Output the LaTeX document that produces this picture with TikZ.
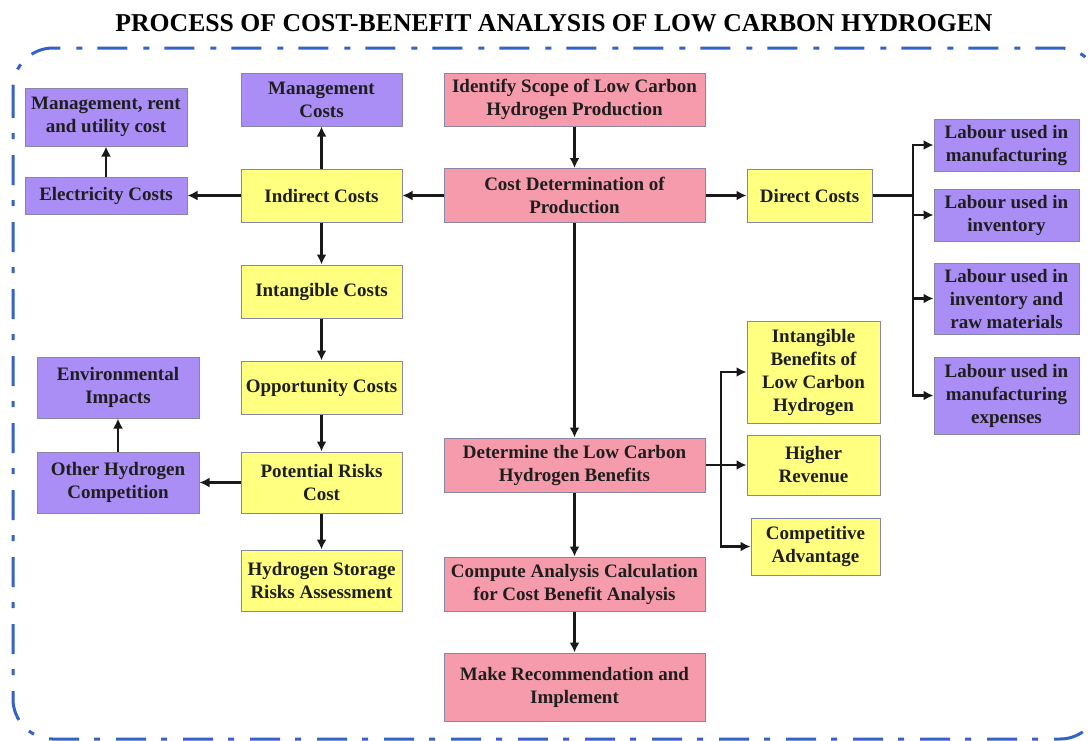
\documentclass[tikz,border=0pt]{standalone}
\usepackage{fontspec}
\setmainfont{Liberation Serif}
\usetikzlibrary{arrows.meta}
\definecolor{purp}{RGB}{170,142,246}
\definecolor{pinkb}{RGB}{246,155,172}
\definecolor{yel}{RGB}{255,255,128}
\definecolor{edge}{RGB}{135,135,165}
\definecolor{bord}{RGB}{52,98,200}
\definecolor{txt}{RGB}{30,30,30}
\tikzset{
  box/.style={draw=edge, line width=1pt, inner sep=0pt, align=center, text=txt,
    font=\fontsize{19}{23}\selectfont\bfseries},
  pbox/.style={box, fill=purp},
  ybox/.style={box, fill=yel},
  kbox/.style={box, fill=pinkb},
  arr/.style={line width=2.8pt, draw=black!90, -{Latex[length=10pt,width=10pt]}},
  ln/.style={line width=2.8pt, draw=black!90},
  border/.style={draw=bord, line width=3pt, rounded corners=40pt,
    dash pattern=on 30pt off 15pt on 6pt off 16pt}
}
\begin{document}
\begin{tikzpicture}[x=1pt,y=-1pt]
\useasboundingbox (0,0) rectangle (1089,740);
\fill[white] (0,0) rectangle (1089,740);
\draw[border] (13,48) rectangle (1100,739);
\node[font=\fontsize{25.7}{30}\selectfont\bfseries, text=black] (title) at (554,23) {PROCESS OF COST-BENEFIT ANALYSIS OF LOW CARBON HYDROGEN};

% purple
\node[pbox, minimum width=162pt, minimum height=58pt] (mru) at (106,117) {Management, rent\\and utility cost};
\node[pbox, minimum width=162pt, minimum height=37pt] (elec) at (106,195.5) {Electricity Costs};
\node[pbox, minimum width=161pt, minimum height=53pt] (mgmt) at (321.5,99.5) {Management\\Costs};
\node[pbox, minimum width=162pt, minimum height=61pt] (env) at (118,387.5) {Environmental\\Impacts};
\node[pbox, minimum width=162pt, minimum height=61pt] (other) at (118,482.5) {Other Hydrogen\\Competition};
\node[pbox, minimum width=145pt, minimum height=52pt] (l1) at (1006.5,145) {Labour used in\\manufacturing};
\node[pbox, minimum width=145pt, minimum height=52pt] (l2) at (1006.5,215) {Labour used in\\inventory};
\node[pbox, minimum width=145pt, minimum height=71pt] (l3) at (1006.5,298.5) {Labour used in\\inventory and\\raw materials};
\node[pbox, minimum width=145pt, minimum height=77pt] (l4) at (1006.5,395.5) {Labour used in\\manufacturing\\expenses};

% yellow
\node[ybox, minimum width=161pt, minimum height=53pt] (indirect) at (321.5,195.5) {Indirect Costs};
\node[ybox, minimum width=161pt, minimum height=53pt] (intang) at (321.5,291.5) {Intangible Costs};
\node[ybox, minimum width=161pt, minimum height=53pt] (opp) at (321.5,387.5) {Opportunity Costs};
\node[ybox, minimum width=161pt, minimum height=61pt] (risk) at (321.5,482.5) {Potential Risks\\Cost};
\node[ybox, minimum width=161pt, minimum height=61pt] (storage) at (321.5,580.5) {Hydrogen Storage\\Risks Assessment};
\node[ybox, minimum width=125pt, minimum height=53pt] (direct) at (809.5,195.5) {Direct Costs};
\node[ybox, minimum width=133pt, minimum height=102pt] (ib) at (813.5,372) {Intangible\\Benefits of\\Low Carbon\\Hydrogen};
\node[ybox, minimum width=133pt, minimum height=60pt] (rev) at (813.5,465) {Higher\\Revenue};
\node[ybox, minimum width=129pt, minimum height=57pt] (comp) at (815.5,546.5) {Competitive\\Advantage};

% pink
\node[kbox, minimum width=261pt, minimum height=53pt] (scope) at (574.5,99.5) {Identify Scope of Low Carbon\\Hydrogen Production};
\node[kbox, minimum width=261pt, minimum height=54pt] (cdet) at (574.5,195.5) {Cost Determination of\\Production};
\node[kbox, minimum width=261pt, minimum height=54pt] (det) at (574.5,465) {Determine the Low Carbon\\Hydrogen Benefits};
\node[kbox, minimum width=261pt, minimum height=54pt] (calc) at (574.5,584) {Compute Analysis Calculation\\for Cost Benefit Analysis};
\node[kbox, minimum width=261pt, minimum height=68pt] (rec) at (574.5,687) {Make Recommendation and\\Implement};

\coordinate (tR) at (913,195.5);
\coordinate (tB) at (721,465);

% connectors
\draw[arr] (scope) -- (cdet);
\draw[arr] (cdet) -- (indirect);
\draw[arr] (cdet) -- (direct);
\draw[arr] (cdet) -- (det);
\draw[arr] (indirect) -- (mgmt);
\draw[arr] (indirect) -- (elec);
\draw[arr] (elec) -- (mru);
\draw[arr] (indirect) -- (intang);
\draw[arr] (intang) -- (opp);
\draw[arr] (opp) -- (risk);
\draw[arr] (risk) -- (storage);
\draw[arr] (risk) -- (other);
\draw[arr] (other) -- (env);
\draw[ln] (direct.east) -- (tR);
\draw[arr] (tR) |- (l1.west);
\draw[arr] (tR) |- (l2.west);
\draw[arr] (tR) |- (l3.west);
\draw[arr] (tR) |- (l4.west);
\draw[arr] (det.east) -- (rev.west);
\draw[arr] (tB) |- (ib.west);
\draw[arr] (tB) |- (comp.west);
\draw[arr] (det) -- (calc);
\draw[arr] (calc) -- (rec);
\end{tikzpicture}
\end{document}
